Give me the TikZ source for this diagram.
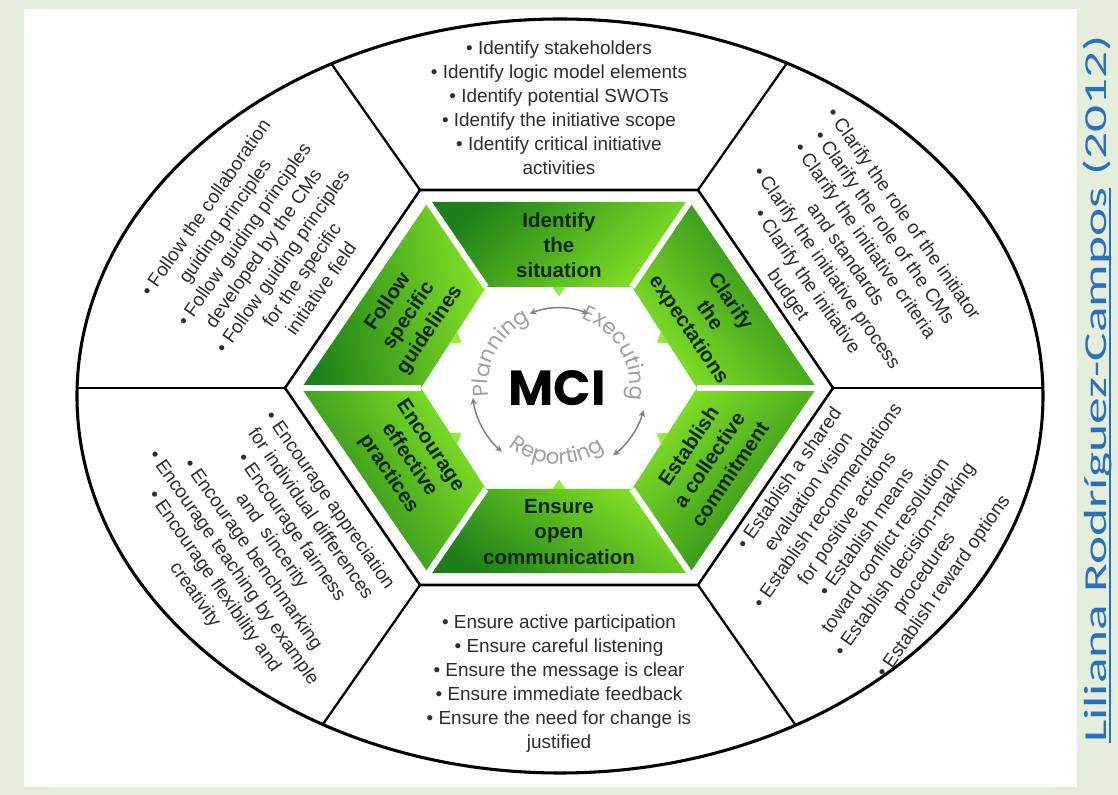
\documentclass[tikz,border=0pt]{standalone}
\usepackage{graphicx}
\usepackage{fontspec}
\setmainfont{Liberation Sans}
\newfontfamily\cyclefont{Poppins}
\newfontfamily\notefont{Carlito}
\usetikzlibrary{arrows.meta,calc,decorations.text}

\definecolor{pagebg}{RGB}{228,238,219}
\definecolor{segdark}{RGB}{28,128,24}
\definecolor{seglime}{RGB}{132,226,38}
\definecolor{arrowlime}{RGB}{150,232,60}
\definecolor{labelgreen}{RGB}{14,38,10}
\definecolor{itemgray}{RGB}{45,45,45}
\definecolor{cyclegray}{RGB}{160,160,160}
\definecolor{linkblue}{RGB}{40,112,190}

% thick underline for the source line
\newcommand{\creditrule}[1]{\setbox0\hbox{#1}\rlap{\rule[-0.13em]{\wd0}{0.07em}}\box0\relax}

\tikzset{
  seglabel/.style={font=\bfseries\fontsize{15.4}{18.8}\selectfont, text=labelgreen, align=center, inner sep=0pt},
  items/.style={font=\fontsize{14.2}{17.6}\selectfont, text=itemgray, align=center, inner sep=0pt},
  cyclearrow/.style={draw=cyclegray!80!black, line width=1.1pt, {Stealth[length=5pt,width=5pt]}-{Stealth[length=5pt,width=5pt]}},
}

\begin{document}
\begin{tikzpicture}[x=0.75pt,y=0.75pt]
% page and frame
\fill[pagebg] (-559,-407) rectangle (559,388);
\fill[white] (-535,-399) rectangle (518,379);
\useasboundingbox (-559,-407) rectangle (559,388);

% hexagon corners, ellipse hits, inner corners
\coordinate (o1) at (274,0);
\coordinate (o2) at (139,198);
\coordinate (o3) at (-139,198);
\coordinate (o4) at (-274,0);
\coordinate (o5) at (-139,-197);
\coordinate (o6) at (139,-197);
\coordinate (e1) at (484,0);
\coordinate (e2) at (228,325);
\coordinate (e3) at (-227.5,324);
\coordinate (e4) at (-482,0);
\coordinate (e5) at (-236.2,-336.4);
\coordinate (e6) at (236.4,-336.8);
\coordinate (i1) at (138,0);
\coordinate (i2) at (73,101);
\coordinate (i3) at (-73,101);
\coordinate (i4) at (-138,0);
\coordinate (i5) at (-73,-101);
\coordinate (i6) at (73,-101);
\foreach \k in {1,...,6}
  \coordinate (g\k) at ($(0,0)!0.94!(o\k)$);

% outer ring
\draw[line width=2.3pt] (1,-8) ellipse [x radius=483, y radius=377];
\foreach \k in {1,...,6}
  \draw[line width=1.7pt] (o\k) -- (e\k);

% green segments
\foreach \a/\b/\ang in {1/2/-50, 2/3/45, 3/4/100, 4/5/125, 5/6/145, 6/1/225}
  \shade[top color=segdark, bottom color=seglime, shading angle=\ang]
    (g\a) -- (g\b) -- (i\b) -- (i\a) -- cycle;
\foreach \k in {1,...,6}
  \draw[white, line width=4.5pt] (i\k) -- ($(0,0)!0.97!(o\k)$);
\draw[line width=1.9pt] (o1) -- (o2) -- (o3) -- (o4) -- (o5) -- (o6) -- cycle;

% small arrows into the centre
\foreach \a/\b in {1/2,2/3,3/4,4/5,5/6,6/1}{
  \coordinate (m) at ($(i\a)!0.5!(i\b)$);
  \fill[arrowlime] ($(m)!5pt!(i\a)$) -- ($(m)!5pt!(i\b)$) -- ($(m)!7pt!90:(i\b)$) -- cycle;
}

% segment labels
\node[seglabel] (identify) at (0,143) {Identify\\the\\situation};
\node[seglabel, rotate=-56] (clarify) at (150,72) {Clarify\\the\\expectations};
\node[seglabel, rotate=56] (follow) at (-150,72) {Follow\\specific\\guidelines};
\node[seglabel, rotate=-56] (encourage) at (-150,-72) {Encourage\\effective\\practices};
\node[seglabel] (ensure) at (0,-144) {Ensure\\open\\communication};
\node[seglabel, rotate=56] (establish) at (150,-72) {Establish\\a collective\\commitment};

% centre
\node[font=\cyclefont\bfseries\fontsize{37}{37}\selectfont, inner sep=0pt] (mci) at (-2,0) {MCI};
\path[decorate, decoration={text along path, text align=center,
  text={|\cyclefont\color{cyclegray}\fontsize{16}{16}\selectfont|Planning}}]
  (0,2) ++(206:71) arc[start angle=206, end angle=96, radius=71];
\path[decorate, decoration={text along path, text align=center,
  text={|\cyclefont\color{cyclegray}\fontsize{16}{16}\selectfont|Executing}}]
  (0,2) ++(85:71) arc[start angle=85, end angle=-25, radius=71];
\path[decorate, decoration={text along path, text align=center,
  text={|\cyclefont\color{cyclegray}\fontsize{16}{16}\selectfont|Reporting}}]
  (0,2) ++(213:78) arc[start angle=213, end angle=323, radius=78];
\draw[cyclearrow] (0,2) ++(112:78) arc[start angle=112, end angle=68, radius=78];
\draw[cyclearrow] (0,2) ++(188:87) arc[start angle=188, end angle=229, radius=87];
\draw[cyclearrow] (0,2) ++(-16:88) arc[start angle=-16, end angle=-52, radius=88];

% outer lists
\node[items, font=\fontsize{14.2}{18}\selectfont] (identifylist) at (0,280)
  {• Identify stakeholders\\• Identify logic model elements\\• Identify potential SWOTs\\• Identify the initiative scope\\• Identify critical initiative\\activities};
\node[items, rotate=-55] (clarifylist) at (286,133)
  {• Clarify the role of the initiator\\• Clarify the role of the CMs\\• Clarify the initiative criteria\\and standards\\• Clarify the initiative process\\• Clarify the initiative\\budget};
\node[items, rotate=55] (followlist) at (-296,140)
  {• Follow the collaboration\\guiding principles\\• Follow guiding principles\\developed by the CMs\\• Follow guiding principles\\for the specific\\initiative field};
\node[items, rotate=-55] (encouragelist) at (-297,-160)
  {• Encourage appreciation\\for individual differences\\• Encourage fairness\\and \ sincerity\\• Encourage benchmarking\\• Encourage teaching by example\\• Encourage flexibility and\\creativity};
\node[items, rotate=55] (establishlist) at (308,-145)
  {• Establish a shared\\evaluation vision\\• Establish recommendations\\for positive actions\\• Establish means\\toward conflict resolution\\• Establish decision-making\\procedures\\• Establish reward options};
\node[items, font=\fontsize{14.2}{18}\selectfont] (ensurelist) at (0,-296)
  {• Ensure active participation\\• Ensure careful listening\\• Ensure the message is clear\\• Ensure immediate feedback\\• Ensure the need for change is\\justified};

% source
\node[rotate=90, text=linkblue, font=\notefont\fontsize{40}{40}\selectfont, inner sep=0pt] (credit) at (539,-1)
  {\scalebox{1}[0.6]{\creditrule{Liliana Rodríguez-Campos} (2012)}};
\end{tikzpicture}
\end{document}
